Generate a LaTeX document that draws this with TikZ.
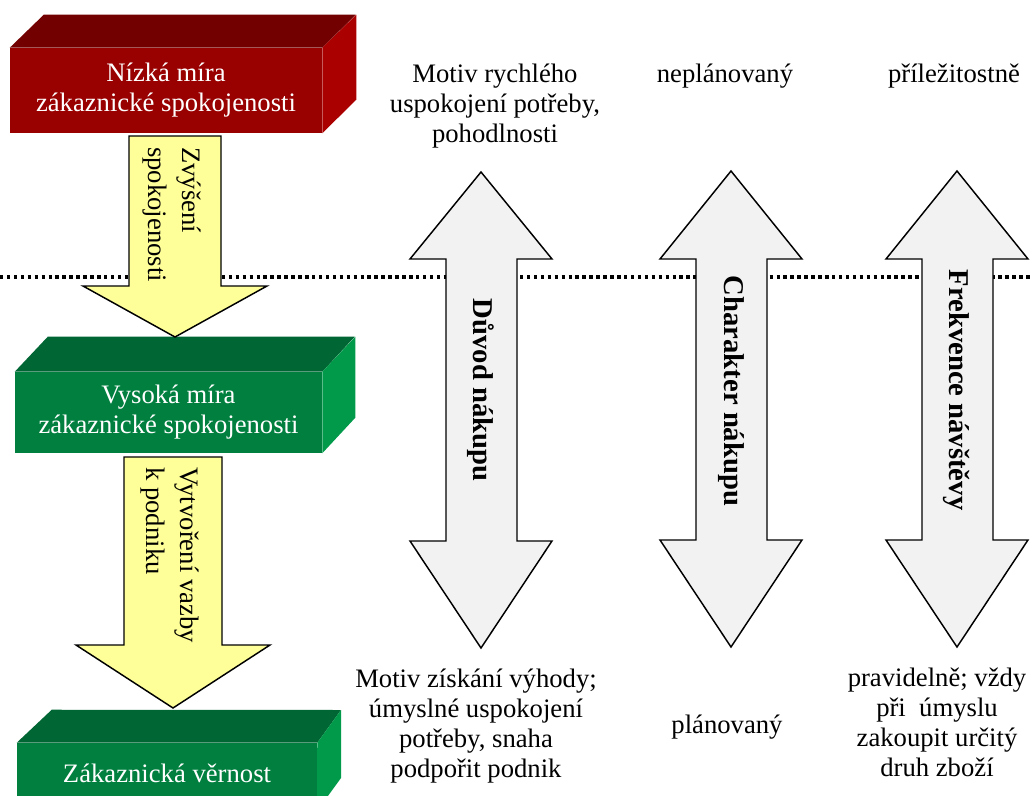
\documentclass[tikz,border=0pt]{standalone}
\usepackage{fontspec}
\setmainfont{Liberation Serif}
\usetikzlibrary{positioning}

\definecolor{redfront}{HTML}{990000}
\definecolor{redtop}{HTML}{730000}
\definecolor{redside}{HTML}{AA0000}
\definecolor{greenfront}{HTML}{007F3F}
\definecolor{greentop}{HTML}{006633}
\definecolor{greenside}{HTML}{009A4A}
\definecolor{arrowyellow}{HTML}{FFFF99}
\definecolor{arrowgray}{HTML}{F2F2F2}

\begin{document}
\begin{tikzpicture}[x=0.75pt, y=-0.75pt,
  every node/.style = {align=center, inner sep=0pt,
    font=\fontsize{20}{22.5}\selectfont},
  frontface/.style = {text=white},
  blockarrow/.style = {draw=black, line width=1.1pt, line join=miter},
  sidelabel/.style = {rotate=-90, anchor=west, align=left,
    font=\fontsize{20}{26}\selectfont},
  axislabel/.style = {rotate=-90, font=\bfseries\fontsize{21.5}{24}\selectfont},
  separator/.style = {line width=2.4pt, dash pattern=on 2.6pt off 2.6pt}]

  \useasboundingbox (0,0) rectangle (1032,796);
  \clip (0,0) rectangle (1032,796);

  % boxes on the left
  \node[frontface, fill=redfront, minimum width=234pt, minimum height=63.75pt]
    (low) at (166,90.5) {Nízká míra\\zákaznické spokojenosti};
  \fill[redtop] (low.north west) -- ++(34,-33) -- ++(312,0) -- (low.north east) -- cycle;
  \fill[redside] (low.north east) -- ++(34,-33) -- ++(0,85) -- (low.south east) -- cycle;

  \node[frontface, fill=greenfront, minimum width=230.25pt, minimum height=60.75pt]
    (high) at (168.5,412.5) {Vysoká míra\\zákaznické spokojenosti};
  \fill[greentop] (high.north west) -- ++(33,-35) -- ++(307,0) -- (high.north east) -- cycle;
  \fill[greenside] (high.north east) -- ++(33,-35) -- ++(0,81) -- (high.south east) -- cycle;

  \node[frontface, fill=greenfront, minimum width=225pt, minimum height=45pt]
    (loyal) at (167,773) {Zákaznická věrnost};
  \fill[greentop] (loyal.north west) -- ++(35,-33) -- (341,710) -- (loyal.north east) -- cycle;
  \fill[greenside] (loyal.north east) -- (341,710) -- (341,778) -- (317,811) -- cycle;

  % dotted separator
  \coordinate (sepL) at (0,277);
  \coordinate (sepR) at (1032,277);
  \draw[separator] (sepL) -- (sepR);

  % yellow arrows between the boxes
  \draw[blockarrow, fill=arrowyellow] (129,136) -- (221,136) -- (221,286) -- (267,286)
    -- (175,337) -- (83,286) -- (129,286) -- cycle;
  \node[sidelabel] (raise) at (172,147) {Zvýšení\\spokojenosti};

  \draw[blockarrow, fill=arrowyellow] (124,457) -- (222,457) -- (222,645) -- (270,645)
    -- (173,708) -- (76,645) -- (124,645) -- cycle;
  \node[sidelabel] (bond) at (170,467) {Vytvoření vazby\\k podniku};

  % gray double arrows
  \draw[blockarrow, fill=arrowgray] (481,172) -- (552,259) -- (517,259) -- (517,541)
    -- (552,541) -- (481,648) -- (410,541) -- (446,541) -- (446,259) -- (410,259) -- cycle;
  \node[axislabel] (reason) at (481,390) {Důvod nákupu};

  \draw[blockarrow, fill=arrowgray] (731,171) -- (802,259) -- (767,259) -- (767,540)
    -- (802,540) -- (731,647) -- (660,540) -- (696,540) -- (696,259) -- (660,259) -- cycle;
  \node[axislabel] (kind) at (731,391) {Charakter nákupu};

  \draw[blockarrow, fill=arrowgray] (957,171) -- (1028,259) -- (993,259) -- (993,540)
    -- (1028,540) -- (957,647) -- (886,540) -- (922,540) -- (922,259) -- (886,259) -- cycle;
  \node[axislabel] (freq) at (957,390) {Frekvence návštěvy};

  % labels at the ends
  \node (reasonTop) at (495,106) {Motiv rychlého\\uspokojení potřeby,\\pohodlnosti};
  \node (kindTop) at (725,76) {neplánovaný};
  \node (freqTop) at (954,76) {příležitostně};

  \node (reasonBot) at (476,726) {Motiv získání výhody;\\úmyslné uspokojení\\potřeby, snaha\\podpořit podnik};
  \node (kindBot) at (727,727) {plánovaný};
  \node (freqBot) at (937,722) {pravidelně; vždy\\při~ úmyslu\\zakoupit určitý\\druh zboží};
\end{tikzpicture}
\end{document}
